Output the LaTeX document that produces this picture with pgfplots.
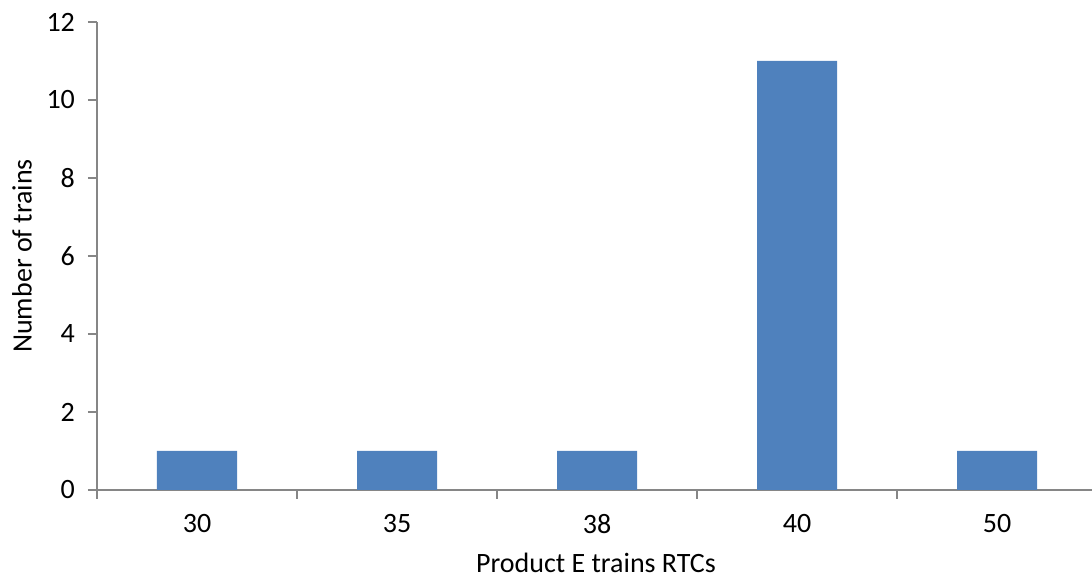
\documentclass[border=0pt]{standalone}
\usepackage{pgfplots}
\pgfplotsset{compat=1.18}
\usepackage{fontspec}
\setmainfont{Carlito}
\definecolor{barblue}{HTML}{4F81BD}
\definecolor{axgray}{HTML}{868686}
\begin{document}
\begin{tikzpicture}
\begin{axis}[
  scale only axis,
  width=497.5pt, height=234pt,
  xmin=-0.5, xmax=4.475,
  ymin=0, ymax=12,
  axis x line*=bottom, axis y line*=left,
  axis line style={draw=axgray, line width=0.75pt},
  ybar, bar width=40pt,
  xtick={0,1,2,3,4},
  xticklabels={30,35,38,40,50},
  minor xtick={-0.5,0.5,1.5,2.5,3.5},
  major x tick style={draw=none},
  minor x tick style={draw=axgray, line width=0.75pt},
  ytick={0,2,4,6,8,10,12},
  y tick style={draw=axgray, line width=0.75pt},
  tick align=outside,
  major tick length=4.5pt, minor tick length=4.5pt,
  tick label style={font=\fontsize{14}{16}\selectfont, text=black},
  /pgf/number format/assume math mode=true,
  xticklabel style={yshift=-4pt},
  yticklabel style={xshift=-3pt},
  xlabel={Product E trains RTCs},
  ylabel={Number of trains},
  label style={font=\fontsize{14}{16}\selectfont},
  xlabel style={at={(axis description cs:0.5015,-0.1765)}, anchor=base},
  ylabel style={at={(axis description cs:-0.0754,0.5)}, anchor=center},
  clip=false,
]
\addplot[fill=barblue, draw=none, bar shift=0pt] coordinates {(0,1) (1,1) (2,1) (3,11) (4,1)};
\coordinate (bl) at (axis description cs:-0.09749,-0.18590);
\coordinate (tr) at (axis description cs:1,1.04701);
\end{axis}
\pgfresetboundingbox
\path[use as bounding box] (bl) rectangle (tr);
\end{tikzpicture}
\end{document}
